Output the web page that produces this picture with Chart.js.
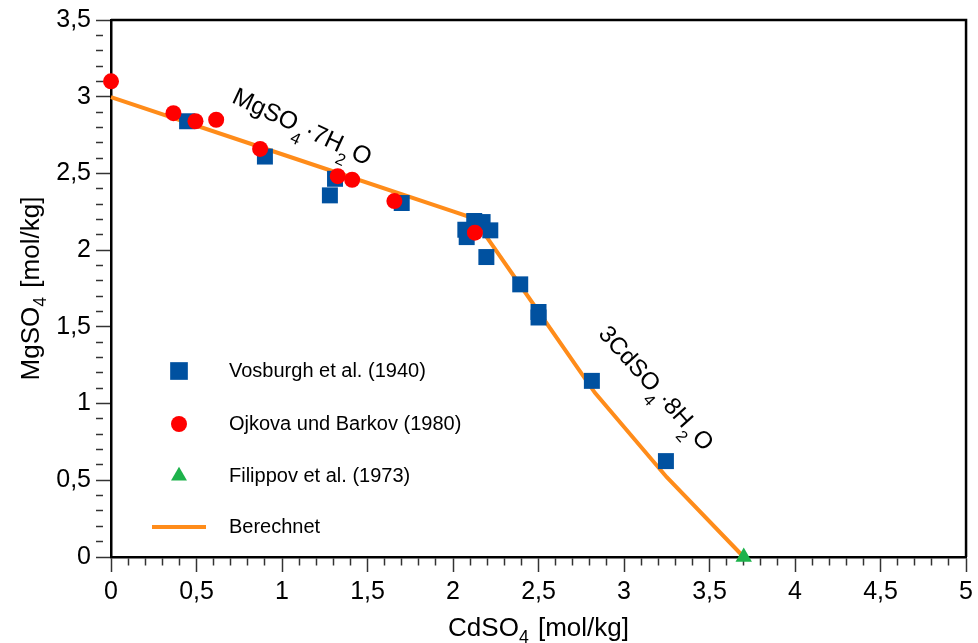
<!DOCTYPE html>
<html>
<head>
<meta charset="utf-8">
<script src="https://cdn.jsdelivr.net/npm/chart.js@4.4.1/dist/chart.umd.min.js"></script>
<style>
  html, body { margin: 0; padding: 0; background: #fff; }
  #caixa { width: 978px; height: 643px; position: relative; }
</style>
</head>
<body>
<div id="caixa"><canvas id="graficoLoeslichkeit"></canvas></div>
<script>
// Vosburgh et al. (1940)
const vosburghX = [0.445, 0.90, 1.31, 1.28, 1.70, 2.072, 2.08, 2.124, 2.173, 2.218, 2.195, 2.393, 2.50, 2.50, 2.812, 3.245];
const vosburghY = [2.84, 2.61, 2.465, 2.357, 2.307, 2.133, 2.085, 2.19, 2.183, 2.129, 1.955, 1.777, 1.597, 1.561, 1.148, 0.625];
// Ojkova und Barkov (1980)
const ojkovaX = [0, 0.365, 0.494, 0.615, 0.872, 1.326, 1.41, 1.657, 2.128];
const ojkovaY = [3.10, 2.893, 2.84, 2.85, 2.66, 2.482, 2.459, 2.32, 2.114];
// Filippov et al. (1973)
const filippovX = [3.70];
const filippovY = [0];
// Berechnet
const berechnetX = [0, 1.0, 2.0, 2.12, 2.39, 2.83, 3.25, 3.70];
const berechnetY = [2.997, 2.625, 2.253, 2.208, 1.776, 1.07, 0.52, 0];

const fonte = "'Liberation Sans', Arial, sans-serif";

function pontos(xs, ys) {
    return xs.map((x, i) => ({ x: x, y: ys[i] }));
}

function marcaMaior(v) {
    const d = Math.round(v * 10);
    return d % 5 === 0;
}

function rotulo(v) {
    if (!marcaMaior(v)) return '';
    const r = Math.round(v * 10) / 10;
    return String(r).replace('.', ',');
}

// text with subscripts: parts = [[texto, sub, gap], ...]
function textoRico(ctx, partes, tam, x, y, alinhar) {
    let largura = 0;
    partes.forEach(p => {
        ctx.font = (p[1] ? tam * 0.68 : tam) + 'px ' + fonte;
        largura += ctx.measureText(p[0]).width + (p[2] || 0);
    });
    let cx = alinhar === 'center' ? x - largura / 2 : x;
    partes.forEach(p => {
        ctx.font = (p[1] ? tam * 0.68 : tam) + 'px ' + fonte;
        ctx.fillText(p[0], cx, p[1] ? y + tam * p[1] : y);
        cx += ctx.measureText(p[0]).width + (p[2] || 0);
    });
}

const pluginExtras = {
    id: 'extras',
    afterDraw(chart) {
        const ctx = chart.ctx;
        const area = chart.chartArea;
        const sx = chart.scales.x, sy = chart.scales.y;
        ctx.save();

        // frame top / right
        ctx.strokeStyle = '#000';
        ctx.lineWidth = 2.5;
        ctx.beginPath();
        ctx.moveTo(area.left, area.top);
        ctx.lineTo(area.right, area.top);
        ctx.lineTo(area.right, area.bottom);
        ctx.stroke();

        ctx.fillStyle = '#000';
        ctx.textBaseline = 'alphabetic';

        // axis titles
        textoRico(ctx, [['CdSO'], ['4', 0.25, 2], [' [mol/kg]']], 26, (area.left + area.right) / 2, 636, 'center');
        ctx.save();
        ctx.translate(39, (area.top + area.bottom) / 2);
        ctx.rotate(-Math.PI / 2);
        textoRico(ctx, [['MgSO'], ['4', 0.25, 2], [' [mol/kg]']], 26, 0, 0, 'center');
        ctx.restore();

        // phase labels
        ctx.save();
        ctx.translate(sx.getPixelForValue(0.70), sy.getPixelForValue(2.965));
        ctx.rotate(25 * Math.PI / 180);
        textoRico(ctx, [['MgSO'], ['4', 0.45, 1], ['·7H'], ['2', 0.45, 3], ['O']], 24.5, 0, 0, 'left');
        ctx.restore();

        ctx.save();
        ctx.translate(sx.getPixelForValue(2.845), sy.getPixelForValue(1.45));
        ctx.rotate(48 * Math.PI / 180);
        textoRico(ctx, [['3CdSO'], ['4', 0.45, 1], ['·8H'], ['2', 0.45, 3], ['O']], 24, 0, 0, 'left');
        ctx.restore();

        // legend
        const linhas = [371, 424, 476, 527];
        chart.data.datasets.forEach((ds, i) => {
            const yy = linhas[i];
            if (ds.showLine) {
                ctx.strokeStyle = ds.borderColor;
                ctx.lineWidth = ds.borderWidth;
                ctx.beginPath();
                ctx.moveTo(152, yy);
                ctx.lineTo(206, yy);
                ctx.stroke();
            } else {
                ctx.fillStyle = ds.backgroundColor;
                Chart.helpers.drawPoint(ctx, {
                    pointStyle: ds.pointStyle,
                    radius: ds.legendRadius,
                    rotation: 0,
                    borderWidth: 0
                }, 179, yy);
            }
            ctx.fillStyle = '#000';
            ctx.font = '20px ' + fonte;
            ctx.textBaseline = 'middle';
            ctx.fillText(ds.label, 229, yy);
            ctx.textBaseline = 'alphabetic';
        });

        ctx.restore();
    }
};

function criarGrafico() {
    const el = document.getElementById('graficoLoeslichkeit');

    const eixo = {
        type: 'linear',
        min: 0,
        border: { color: '#000', width: 2.5 },
        grid: {
            drawOnChartArea: false,
            drawTicks: true,
            tickLength: 15,
            tickColor: '#333',
            tickWidth: 1.5,
            tickBorderDash: c => (c.tick && marcaMaior(c.tick.value)) ? [] : [7, 100]
        },
        ticks: {
            stepSize: 0.1,
            autoSkip: false,
            minRotation: 0,
            maxRotation: 0,
            color: '#000',
            font: { family: fonte, size: 25 },
            callback: v => rotulo(v)
        }
    };

    new Chart(el, {
        type: 'scatter',
        data: {
            datasets: [{
                label: 'Vosburgh et al. (1940)',
                data: pontos(vosburghX, vosburghY),
                pointStyle: 'rect',
                pointRadius: 11.3,
                legendRadius: 12.5,
                pointBorderWidth: 0,
                backgroundColor: '#0051A0',
                borderColor: '#0051A0',
                clip: false,
                order: 2
            }, {
                label: 'Ojkova und Barkov (1980)',
                data: pontos(ojkovaX, ojkovaY),
                pointStyle: 'circle',
                pointRadius: 8,
                legendRadius: 8,
                pointBorderWidth: 0,
                backgroundColor: '#FF0000',
                borderColor: '#FF0000',
                clip: false,
                order: 1
            }, {
                label: 'Filippov et al. (1973)',
                data: pontos(filippovX, filippovY),
                pointStyle: 'triangle',
                pointRadius: 9.5,
                legendRadius: 9.2,
                pointBorderWidth: 0,
                backgroundColor: '#1DB24B',
                borderColor: '#1DB24B',
                clip: false,
                order: 0
            }, {
                label: 'Berechnet',
                data: pontos(berechnetX, berechnetY),
                showLine: true,
                pointRadius: 0,
                borderColor: '#FF8C1A',
                backgroundColor: '#FF8C1A',
                borderWidth: 4,
                tension: 0,
                clip: false,
                order: 3
            }]
        },
        options: {
            responsive: true,
            maintainAspectRatio: false,
            animation: false,
            events: [],
            layout: { padding: { top: 20, right: 11, left: 0, bottom: 0 } },
            plugins: {
                legend: { display: false },
                tooltip: { enabled: false }
            },
            scales: {
                x: Object.assign({}, eixo, {
                    max: 5,
                    ticks: Object.assign({}, eixo.ticks, { padding: 5 }),
                    afterFit: s => { s.height = 86; }
                }),
                y: Object.assign({}, eixo, {
                    max: 3.5,
                    ticks: Object.assign({}, eixo.ticks, { padding: 5 }),
                    afterFit: s => { s.width = 111; }
                })
            }
        },
        plugins: [pluginExtras]
    });
}

window.onload = function () {
    criarGrafico();
};
</script>
</body>
</html>
